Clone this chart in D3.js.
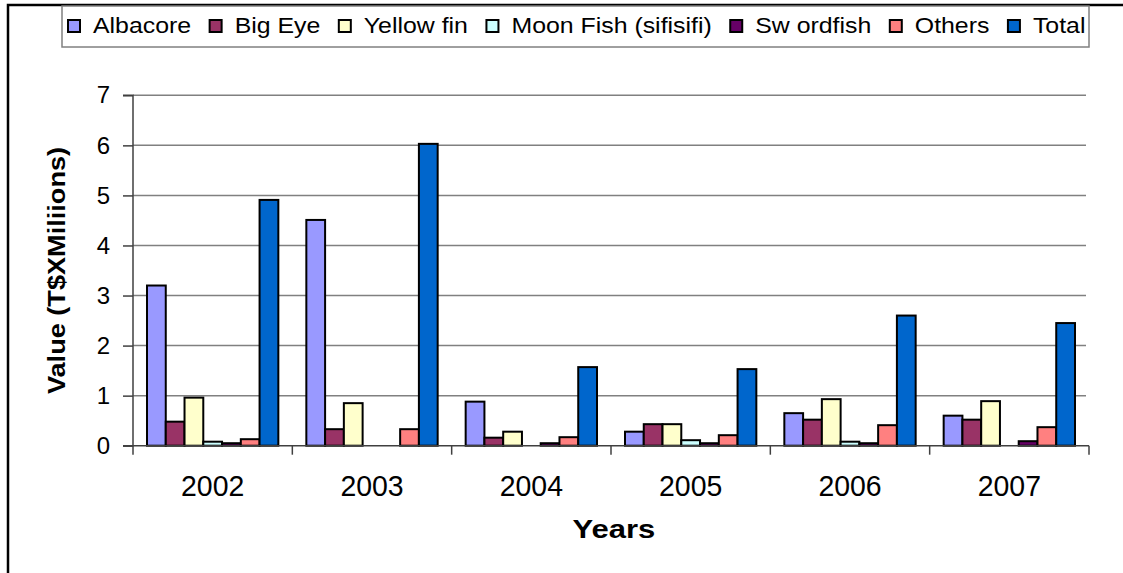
<!DOCTYPE html>
<html>
<head>
<meta charset="utf-8">
<script src="https://cdn.jsdelivr.net/npm/d3@7"></script>
<style>
  html, body { margin: 0; padding: 0; background: #fff; }
  svg { display: block; font-family: "Liberation Sans", Arial, sans-serif; }
</style>
</head>
<body>
<svg id="chart" width="1123" height="573"></svg>
<script>
// Tuna export values by species, T$ millions
const years = ["2002", "2003", "2004", "2005", "2006", "2007"];
const seriesNames = ["Albacore", "Big Eye", "Yellow fin", "Moon Fish (sifisifi)", "Sw ordfish", "Others", "Total"];
const albacore  = [3.20, 4.51, 0.88, 0.28, 0.65, 0.60];
const bigEye    = [0.48, 0.33, 0.16, 0.43, 0.52, 0.52];
const yellowfin = [0.96, 0.85, 0.28, 0.43, 0.93, 0.89];
const moonFish  = [0.08, 0.00, 0.00, 0.11, 0.08, 0.00];
const swordfish = [0.05, 0.00, 0.05, 0.05, 0.05, 0.09];
const others    = [0.13, 0.33, 0.17, 0.21, 0.41, 0.37];
const total     = [4.91, 6.03, 1.57, 1.53, 2.60, 2.45];
const yTicks = [0, 1, 2, 3, 4, 5, 6, 7];
const colors = ["#9999FF", "#993366", "#FFFFCC", "#CCFFFF", "#660066", "#FF8080", "#0066CC"];

const seriesValues = [albacore, bigEye, yellowfin, moonFish, swordfish, others, total];

const svg = d3.select("#chart");
const plotLeft = 133, plotRight = 1089, plotTop = 95.3, plotBottom = 445.7;

// widen a text element horizontally by a factor (glyphs drawn slightly wide)
function widen(sel, factor) {
  sel.each(function () {
    const len = this.getComputedTextLength();
    d3.select(this).attr("textLength", len * factor).attr("lengthAdjust", "spacingAndGlyphs");
  });
}

// Outer chart frame
svg.append("rect")
  .attr("x", 8).attr("y", 5).attr("width", 1140).attr("height", 600)
  .attr("fill", "#fff").attr("stroke", "#000").attr("stroke-width", 2.5);

const x0 = d3.scaleBand().domain(years).range([plotLeft, plotRight]).padding(0);
const x1 = d3.scaleBand().domain(seriesNames).range([14, x0.bandwidth() - 14]).padding(0);
const y = d3.scaleLinear().domain([0, 7]).range([plotBottom, plotTop]);

// Horizontal gridlines
svg.append("g").selectAll("line")
  .data(yTicks.filter(t => t > 0))
  .join("line")
  .attr("x1", plotLeft).attr("x2", 1086)
  .attr("y1", d => y(d)).attr("y2", d => y(d))
  .attr("stroke", "#808080").attr("stroke-width", 1.5);

// Bars
const groups = svg.append("g").selectAll("g")
  .data(years)
  .join("g")
  .attr("transform", d => `translate(${x0(d)},0)`);

groups.selectAll("rect")
  .data((d, i) => seriesNames.map((s, k) => ({ s, k, v: seriesValues[k][i] })).filter(e => e.v > 0))
  .join("rect")
  .attr("x", d => x1(d.s))
  .attr("width", x1.bandwidth())
  .attr("y", d => y(d.v))
  .attr("height", d => y(0) - y(d.v))
  .attr("fill", d => colors[d.k])
  .attr("stroke", "#000").attr("stroke-width", 2);

// Y axis
const yAxis = d3.axisLeft(y).tickValues(yTicks).tickSize(10).tickPadding(13).tickFormat(d3.format("d"));
const yg = svg.append("g").attr("transform", `translate(${plotLeft},0)`).call(yAxis);
yg.select(".domain").attr("stroke", "#404040").attr("stroke-width", 1.5).attr("d", `M-10,${plotBottom}H0V${plotTop}H-10`);
yg.selectAll(".tick line").attr("stroke", "#404040").attr("stroke-width", 1.5);
yg.selectAll(".tick text").attr("font-size", 24).attr("fill", "#000")
  .attr("font-family", "Liberation Sans, Arial, sans-serif");

// X axis
const xAxis = d3.axisBottom(x0).tickSize(0).tickPadding(30);
const xg = svg.append("g").attr("transform", `translate(0,${plotBottom})`).call(xAxis);
xg.select(".domain").attr("stroke", "#404040").attr("stroke-width", 1.5).attr("d", `M${plotLeft},0H${plotRight}`);
xg.selectAll(".tick text").attr("font-size", 29).attr("fill", "#000")
  .attr("font-family", "Liberation Sans, Arial, sans-serif")
  .call(widen, 0.98);
// category separator ticks
xg.append("g").selectAll("line")
  .data(years.map(d => x0(d)).concat([x0(years[years.length - 1]) + x0.bandwidth()]))
  .join("line")
  .attr("x1", d => d).attr("x2", d => d)
  .attr("y1", 0).attr("y2", 9)
  .attr("stroke", "#404040").attr("stroke-width", 1.5);

// Axis titles
svg.append("text")
  .attr("x", 614).attr("y", 538)
  .attr("text-anchor", "middle")
  .attr("font-size", 25).attr("font-weight", "bold")
  .text("Years")
  .call(widen, 1.24);

svg.append("text")
  .attr("transform", `translate(65,${(plotTop + plotBottom) / 2}) rotate(-90)`)
  .attr("text-anchor", "middle")
  .attr("font-size", 24).attr("font-weight", "bold")
  .text("Value (T$XMiliions)")
  .call(widen, 1.13);

// Legend
const legend = svg.append("g");
legend.append("rect")
  .attr("x", 62).attr("y", 6).attr("width", 1027).attr("height", 41)
  .attr("fill", "#fff").attr("stroke", "#808080").attr("stroke-width", 1.5);

let lx = 68;
seriesNames.forEach((name, k) => {
  const item = legend.append("g").attr("transform", `translate(${lx},0)`);
  item.append("rect")
    .attr("x", 0).attr("y", 20).attr("width", 12).attr("height", 12)
    .attr("fill", colors[k]).attr("stroke", "#000").attr("stroke-width", 2);
  const t = item.append("text")
    .attr("x", 25).attr("y", 33)
    .attr("font-size", 22)
    .text(name)
    .call(widen, 1.13);
  const w = +t.attr("textLength");
  lx += 25 + w + 18.5;
});
</script>
</body>
</html>
